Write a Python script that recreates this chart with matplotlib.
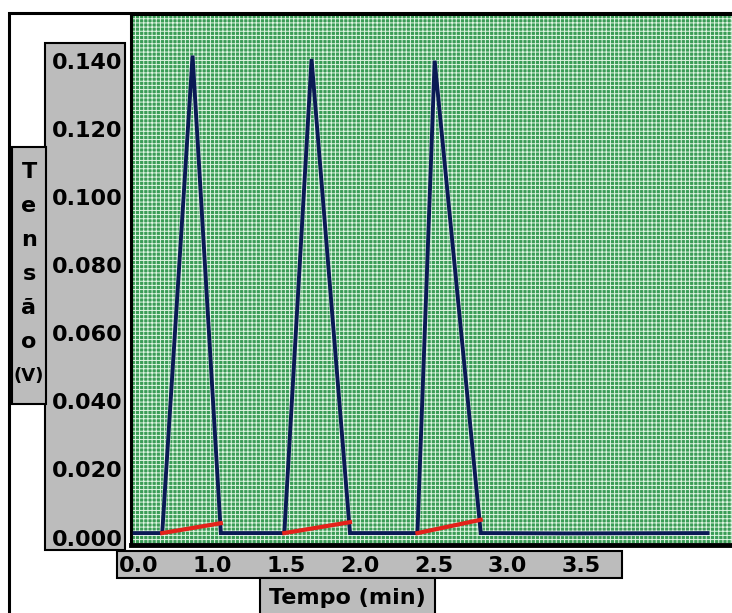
"""Recreation of an old chromatography-style screen grab: three triangular voltage peaks
with red integration baselines, drawn on a hatched green plot area with grey label panels.
"""
import matplotlib
matplotlib.use("Agg")
import matplotlib.pyplot as plt  # noqa: E402
from matplotlib.patches import Rectangle  # noqa: E402

# signal trace (time in min, voltage in V)
time_min = [0.47, 0.657, 0.863, 1.055, 1.486, 1.671, 1.932, 2.39, 2.507, 2.82, 3.40, 4.36]
tensao_v = [0.0013, 0.0013, 0.1415, 0.0013, 0.0013, 0.1405, 0.0013, 0.0013, 0.1400, 0.0013, 0.0012, 0.0013]

# integration baselines under each peak (start, end)
base_t = [(0.657, 1.055), (1.486, 1.932), (2.39, 2.82)]
base_v = [(0.0013, 0.0042), (0.0013, 0.0045), (0.0013, 0.0052)]

y_ticks = [0.000, 0.020, 0.040, 0.060, 0.080, 0.100, 0.120, 0.140]
x_ticks = [0.5, 1.0, 1.5, 2.0, 2.5, 3.0, 3.5]
x_labels = ["0.0", "1.0", "1.5", "2.0", "2.5", "3.0", "3.5"]
y_title = ["T", "e", "n", "s", "ã", "o", "(V)"]
x_title = "Tempo (min)"

W, H = 732, 613
GREEN = "#3a9c56"
HATCH = "#dff5e2"
PANEL = "#bcbcbc"
TRACE = "#0b1a55"
BASE = "#e3221b"
FONT = dict(family="DejaVu Sans", weight="bold")


def box(x0, y0, x1, y1):
    """Rectangle in figure fractions from pixel corners (top-left origin)."""
    return (x0 / W, 1 - y1 / H, (x1 - x0) / W, (y1 - y0) / H)


def panel(fig, x0, y0, x1, y1):
    l, b, w, h = box(x0, y0, x1, y1)
    fig.add_artist(Rectangle((l, b), w, h, transform=fig.transFigure, facecolor=PANEL,
                             edgecolor="black", lw=1.5, zorder=-1))


def main() -> None:
    plt.rcParams["hatch.linewidth"] = 0.7
    fig = plt.figure(figsize=(W / 100, H / 100), dpi=100)

    # outer window frame
    l, b, w, h = box(9, 13, W + 10, H + 10)
    fig.add_artist(Rectangle((l, b), w, h, transform=fig.transFigure, facecolor="white",
                             edgecolor="black", lw=2.2, zorder=-2))

    panel(fig, 45, 43, 125, 550)     # y tick labels
    panel(fig, 12, 147, 46, 404)     # y title
    panel(fig, 117, 551, 622, 578)   # x tick labels
    panel(fig, 260, 578, 435, 640)   # x title

    ax = fig.add_axes(box(131, 14, W + 5, 545))
    ax.set_facecolor(GREEN)
    ax.add_patch(Rectangle((0, 0), 1, 1, transform=ax.transAxes, facecolor=GREEN,
                           edgecolor=HATCH, hatch="++++", lw=0, zorder=0))

    ax.plot(time_min, tensao_v, color="white", lw=4.0, alpha=0.45, zorder=2,
            solid_joinstyle="miter")
    ax.plot(time_min, tensao_v, color=TRACE, lw=2.8, zorder=3, solid_joinstyle="miter")
    for t, v in zip(base_t, base_v):
        ax.plot(t, v, color=BASE, lw=3.0, zorder=4)

    ax.set_xlim(0.445, 4.56)
    ax.set_ylim(-0.0022, 0.1537)
    ax.set_yticks(y_ticks)
    ax.set_yticklabels([f"{v:.3f}" for v in y_ticks], **FONT)
    ax.set_xticks(x_ticks)
    ax.set_xticklabels(x_labels, **FONT)
    ax.tick_params(axis="y", length=0, pad=6, labelsize=16)
    ax.tick_params(axis="x", length=0, pad=8, labelsize=16)

    for side in ("top", "left", "right"):
        ax.spines[side].set_linewidth(2.2)
    ax.spines["bottom"].set_linewidth(3.5)

    # stacked y title letters
    for i, ch in enumerate(y_title):
        size = 16 if len(ch) == 1 else 13
        fig.text(29 / W, 1 - (172 + 34 * i) / H, ch, ha="center", va="center",
                 fontsize=size, **FONT)

    fig.text(347 / W, 1 - 598 / H, x_title, ha="center", va="center", fontsize=16, **FONT)

    fig.savefig("out.png", dpi=100)


if __name__ == "__main__":
    main()
